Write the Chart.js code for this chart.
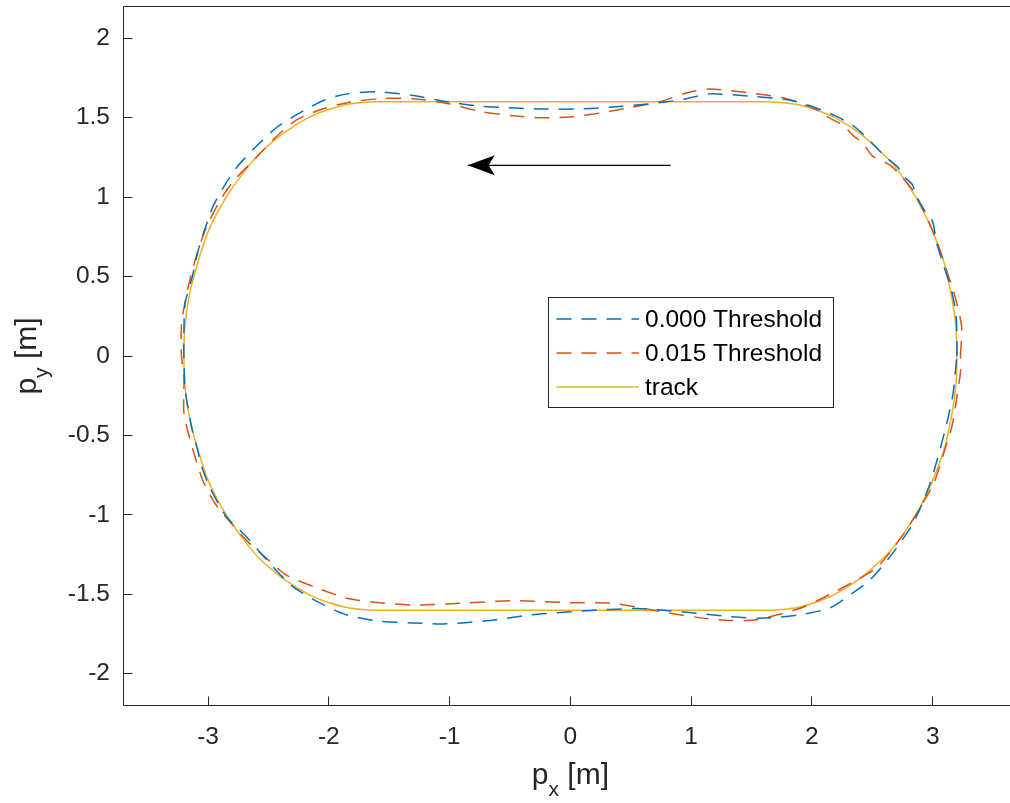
<!DOCTYPE html>
<html><head><meta charset="utf-8">
<script src="https://cdn.jsdelivr.net/npm/chart.js@4/dist/chart.umd.min.js"></script>
<style>html,body{margin:0;padding:0;background:#fff;}canvas{display:block;}</style>
</head><body>
<canvas id="c" width="1010" height="803"></canvas>
<script>
// ---- data ----
const xTicks = [-3, -2, -1, 0, 1, 2, 3];
const xTickLabels = ['-3', '-2', '-1', '0', '1', '2', '3'];
const yTicks = [-2, -1.5, -1, -0.5, 0, 0.5, 1, 1.5, 2];
const yTickLabels = ['-2', '-1.5', '-1', '-0.5', '0', '0.5', '1', '1.5', '2'];
const seriesNames = ['0.000 Threshold', '0.015 Threshold', 'track'];

const blueX = [3.20,3.20,3.19,3.15,3.09,3.03,3.00,2.93,2.87,2.83,2.76,2.71,2.60,2.46,2.34,2.20,2.04,1.82,1.49,1.15,0.96,0.80,0.62,0.41,0.08,-0.25,-0.58,-0.78,-1.02,-1.30,-1.60,-1.85,-2.04,-2.24,-2.43,-2.60,-2.76,-2.87,-2.96,-3.03,-3.08,-3.13,-3.19,-3.20,-3.20,-3.19,-3.16,-3.13,-3.09,-3.05,-2.99,-2.85,-2.68,-2.46,-2.30,-2.07,-1.85,-1.58,-1.30,-1.08,-0.89,-0.61,-0.33,0.00,0.33,0.55,0.77,1.05,1.32,1.54,1.71,1.93,2.15,2.34,2.48,2.65,2.84,2.97,3.06,3.13,3.17,3.20];
const blueY = [0.00,0.15,0.28,0.43,0.57,0.72,0.845,0.92,1.00,1.08,1.13,1.19,1.26,1.37,1.45,1.51,1.56,1.61,1.635,1.65,1.62,1.60,1.585,1.57,1.555,1.555,1.565,1.575,1.60,1.64,1.663,1.65,1.61,1.53,1.44,1.32,1.19,1.065,0.94,0.79,0.67,0.50,0.33,0.15,0.00,-0.21,-0.35,-0.47,-0.58,-0.70,-0.82,-1.01,-1.14,-1.33,-1.45,-1.556,-1.63,-1.67,-1.68,-1.687,-1.68,-1.66,-1.63,-1.61,-1.595,-1.59,-1.60,-1.62,-1.64,-1.65,-1.645,-1.625,-1.585,-1.49,-1.41,-1.26,-1.05,-0.82,-0.59,-0.38,-0.23,0.00];

const orangeX = [3.23,3.24,3.20,3.17,3.11,3.04,2.96,2.88,2.84,2.74,2.65,2.50,2.43,2.34,2.26,2.12,2.04,1.79,1.49,1.15,0.96,0.74,0.50,0.25,0.00,-0.25,-0.45,-0.75,-1.02,-1.30,-1.58,-1.85,-2.07,-2.27,-2.45,-2.60,-2.79,-2.90,-3.02,-3.10,-3.16,-3.19,-3.22,-3.22,-3.20,-3.20,-3.165,-3.11,-3.04,-2.94,-2.80,-2.67,-2.52,-2.35,-2.13,-1.85,-1.58,-1.30,-0.89,-0.47,0.00,0.33,0.55,0.83,1.10,1.32,1.54,1.76,1.93,2.15,2.37,2.54,2.76,2.93,3.01,3.10,3.16,3.20,3.23,3.23];
const orangeY = [0.00,0.18,0.33,0.41,0.55,0.71,0.86,0.98,1.04,1.13,1.20,1.26,1.33,1.39,1.45,1.51,1.55,1.62,1.655,1.68,1.655,1.60,1.565,1.53,1.505,1.50,1.51,1.54,1.59,1.62,1.62,1.594,1.55,1.485,1.37,1.25,1.10,0.98,0.80,0.62,0.45,0.34,0.20,0.00,-0.13,-0.36,-0.48,-0.63,-0.79,-0.93,-1.06,-1.17,-1.27,-1.38,-1.45,-1.525,-1.553,-1.567,-1.556,-1.54,-1.553,-1.556,-1.58,-1.62,-1.65,-1.665,-1.66,-1.62,-1.58,-1.50,-1.41,-1.33,-1.12,-0.91,-0.80,-0.59,-0.44,-0.26,-0.10,0.00];

const trackX = [1.65,0.00,-1.62,-1.80,-1.87,-2.01,-2.17,-2.38,-2.54,-2.66,-2.85,-2.99,-3.08,-3.15,-3.19,-3.20,-3.19,-3.15,-3.08,-2.99,-2.85,-2.66,-2.54,-2.38,-2.17,-2.01,-1.87,-1.80,-1.62,0.00,1.65,1.82,1.90,2.03,2.19,2.40,2.55,2.68,2.86,2.99,3.09,3.15,3.19,3.20,3.19,3.15,3.09,2.99,2.86,2.68,2.55,2.40,2.19,2.03,1.90,1.82,1.65];
const trackY = [1.60,1.60,1.60,1.59,1.58,1.55,1.50,1.40,1.30,1.20,1.00,0.80,0.60,0.40,0.20,0.00,-0.20,-0.40,-0.60,-0.80,-1.00,-1.20,-1.30,-1.40,-1.50,-1.55,-1.58,-1.59,-1.60,-1.60,-1.60,-1.59,-1.58,-1.55,-1.50,-1.40,-1.30,-1.20,-1.00,-0.80,-0.60,-0.40,-0.20,0.00,0.20,0.40,0.60,0.80,1.00,1.20,1.30,1.40,1.50,1.55,1.58,1.59,1.60];

const arrowX = [0.83, -0.85];
const arrowY = [1.2, 1.2];

// ---- styling ----
const FONT = '"Liberation Sans", Arial, Helvetica, sans-serif';
const AXC = '#262626';
const toPts = (xs, ys) => xs.map((x, i) => ({ x: x, y: ys[i] }));

const arrowPlugin = {
  id: 'arrowHead',
  afterDatasetsDraw(chart) {
    const ctx = chart.ctx;
    chart.data.datasets.forEach((ds, di) => {
      if (!ds.arrowHead) return;
      const pts = chart.getDatasetMeta(di).data;
      const p1 = pts[pts.length - 2], p2 = pts[pts.length - 1];
      const ang = Math.atan2(p2.y - p1.y, p2.x - p1.x);
      const L = 27, W = 10, N = 21;
      ctx.save();
      ctx.translate(p2.x, p2.y);
      ctx.rotate(ang);
      ctx.beginPath();
      ctx.moveTo(0, 0);
      ctx.lineTo(-L, -W);
      ctx.lineTo(-N, 0);
      ctx.lineTo(-L, W);
      ctx.closePath();
      ctx.fillStyle = ds.borderColor;
      ctx.fill();
      ctx.restore();
    });
  }
};

const legendPlugin = {
  id: 'boxLegend',
  afterDraw(chart, args, o) {
    const ctx = chart.ctx;
    ctx.save();
    ctx.fillStyle = '#fff';
    ctx.fillRect(o.left, o.top, o.width, o.height);
    ctx.strokeStyle = AXC;
    ctx.lineWidth = 1;
    ctx.strokeRect(Math.round(o.left) + 0.5, Math.round(o.top) + 0.5, o.width, o.height);
    ctx.font = o.fontSize + 'px ' + FONT;
    ctx.textBaseline = 'middle';
    ctx.textAlign = 'left';
    let row = 0;
    chart.data.datasets.forEach(ds => {
      if (!ds.label) return;
      const y = o.top + o.firstRow + row * o.rowGap;
      ctx.beginPath();
      ctx.setLineDash(ds.borderDash || []);
      ctx.strokeStyle = ds.borderColor;
      ctx.lineWidth = ds.borderWidth;
      ctx.moveTo(o.left + o.lineStart, y);
      ctx.lineTo(o.left + o.lineEnd, y);
      ctx.stroke();
      ctx.setLineDash([]);
      ctx.fillStyle = '#000';
      ctx.fillText(ds.label, o.left + o.textStart, y + 1);
      row++;
    });
    ctx.restore();
  }
};

function drawSubLabel(ctx, parts, x, y, size, subSize, subDrop) {
  ctx.font = size + 'px ' + FONT;
  const w1 = ctx.measureText(parts[0]).width;
  const w3 = ctx.measureText(parts[2]).width;
  ctx.font = subSize + 'px ' + FONT;
  const w2 = ctx.measureText(parts[1]).width;
  const total = w1 + w2 + w3;
  let cx = x - total / 2;
  ctx.textAlign = 'left';
  ctx.textBaseline = 'alphabetic';
  ctx.font = size + 'px ' + FONT;
  ctx.fillText(parts[0], cx, y); cx += w1;
  ctx.font = subSize + 'px ' + FONT;
  ctx.fillText(parts[1], cx, y + subDrop); cx += w2;
  ctx.font = size + 'px ' + FONT;
  ctx.fillText(parts[2], cx, y);
}

const axisTitlePlugin = {
  id: 'axisTitles',
  afterDraw(chart, args, o) {
    const ctx = chart.ctx;
    const xs = chart.scales.x, ys = chart.scales.y;
    ctx.save();
    ctx.fillStyle = AXC;
    const cx = xs.getPixelForValue(o.xCenter);
    drawSubLabel(ctx, o.xParts, cx, o.xBaseline, o.size, o.subSize, o.subDrop);
    const cy = ys.getPixelForValue(o.yCenter);
    ctx.translate(o.yBaseline, cy);
    ctx.rotate(-Math.PI / 2);
    drawSubLabel(ctx, o.yParts, 0, 0, o.size, o.subSize, o.subDrop);
    ctx.restore();
  }
};

const tickFont = { family: FONT, size: 24.5 };
const noPad = s => { s.paddingTop = 0; s.paddingBottom = 0; s.paddingLeft = 0; s.paddingRight = 0; };

new Chart(document.getElementById('c'), {
  type: 'scatter',
  data: {
    datasets: [
      { label: seriesNames[0], data: toPts(blueX, blueY), showLine: true, borderColor: '#0072BD', borderWidth: 1.5, borderDash: [15, 10], pointRadius: 0, tension: 0.25, fill: false },
      { label: seriesNames[1], data: toPts(orangeX, orangeY), showLine: true, borderColor: '#D95319', borderWidth: 1.5, borderDash: [15, 10], pointRadius: 0, tension: 0.25, fill: false },
      { label: seriesNames[2], data: toPts(trackX, trackY), showLine: true, borderColor: '#EDB120', borderWidth: 1.5, pointRadius: 0, tension: 0.3, fill: false },
      { label: '', data: toPts(arrowX, arrowY), showLine: true, borderColor: '#000000', borderWidth: 1.2, pointRadius: 0, tension: 0, fill: false, arrowHead: true }
    ]
  },
  options: {
    responsive: false,
    animation: false,
    devicePixelRatio: 1,
    layout: { padding: { left: 0, right: 0, top: 6.5, bottom: 0 } },
    plugins: {
      legend: { display: false },
      tooltip: { enabled: false },
      boxLegend: { left: 548, top: 297, width: 285, height: 110, firstRow: 22, rowGap: 34, lineStart: 8.5, lineEnd: 91, textStart: 97, fontSize: 24.5 },
      axisTitles: { xParts: ['p', 'x', ' [m]'], yParts: ['p', 'y', ' [m]'], xCenter: 0, yCenter: 0, xBaseline: 784, yBaseline: 36, size: 30, subSize: 21, subDrop: 12 }
    },
    scales: {
      x: {
        type: 'linear', position: 'bottom', min: -3.7, max: 3.64,
        afterBuildTicks: s => { s.ticks = xTicks.map(v => ({ value: v })); },
        afterFit: s => { s.height = 97.5; noPad(s); },
        ticks: { font: tickFont, color: AXC, padding: 26, maxRotation: 0, autoSkip: false,
          callback: v => { const i = xTicks.indexOf(v); return i >= 0 ? xTickLabels[i] : ''; } },
        grid: { display: true, drawOnChartArea: false, drawTicks: true, tickLength: -9, color: AXC, tickWidth: 1 },
        border: { display: true, color: AXC, width: 1 }
      },
      y: {
        type: 'linear', position: 'left', min: -2.2, max: 2.2,
        afterBuildTicks: s => { s.ticks = yTicks.map(v => ({ value: v })); },
        afterFit: s => { s.width = 123.5; noPad(s); },
        ticks: { font: tickFont, color: AXC, padding: 22.5, autoSkip: false,
          callback: v => { const i = yTicks.indexOf(v); return i >= 0 ? yTickLabels[i] : ''; } },
        grid: { display: true, drawOnChartArea: false, drawTicks: true, tickLength: -9, color: AXC, tickWidth: 1 },
        border: { display: true, color: AXC, width: 1 }
      },
      x2: {
        type: 'linear', position: 'top', min: -3.7, max: 3.64,
        afterFit: s => { s.height = 0; noPad(s); },
        ticks: { display: false },
        grid: { display: true, drawOnChartArea: false, drawTicks: false, color: AXC },
        border: { display: true, color: AXC, width: 1 }
      },
      y2: {
        type: 'linear', position: 'right', min: -2.2, max: 2.2,
        afterFit: s => { s.width = 0; noPad(s); },
        ticks: { display: false },
        grid: { display: true, drawOnChartArea: false, drawTicks: false, color: AXC },
        border: { display: true, color: AXC, width: 1 }
      }
    }
  },
  plugins: [arrowPlugin, legendPlugin, axisTitlePlugin]
});
</script>
</body></html>
